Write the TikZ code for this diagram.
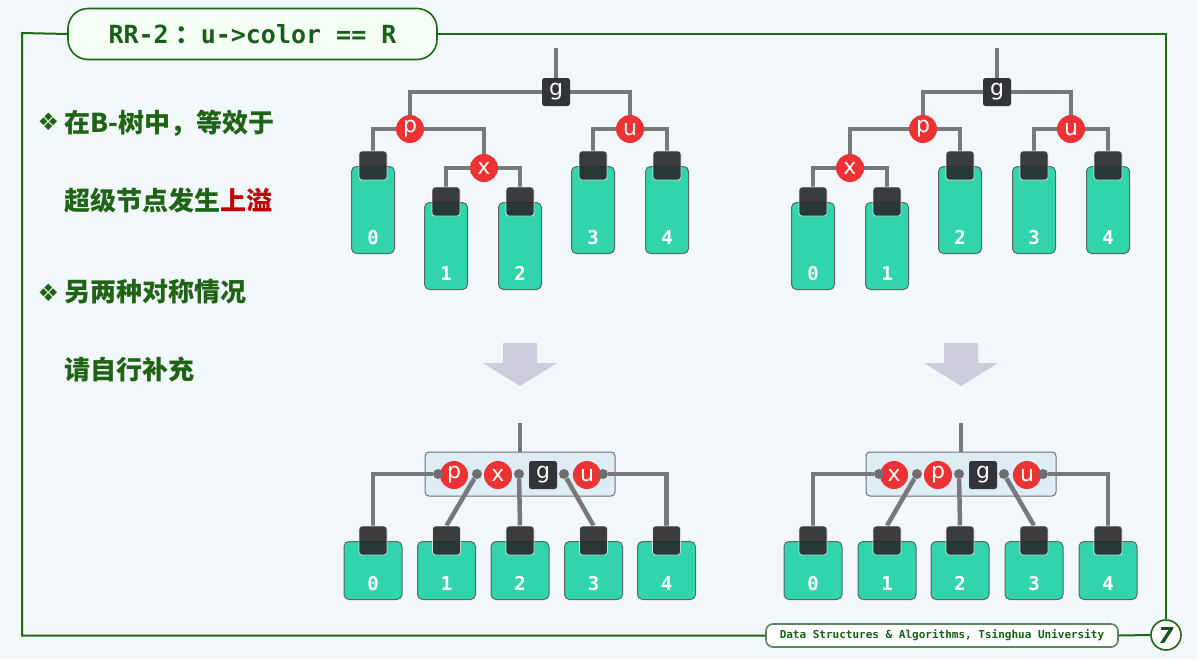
\documentclass[tikz,border=0pt]{standalone}
\usepackage{fontspec}
\newfontfamily\cjk{Noto Sans CJK SC}
\newfontfamily\mono{DejaVu Sans Mono}
\newfontfamily\djs{DejaVu Sans}
\pgfdeclarelayer{bgl}
\pgfdeclarelayer{lnl}
\pgfsetlayers{bgl,lnl,main}
\definecolor{bgc}{RGB}{242,247,251}
\definecolor{framec}{RGB}{30,105,20}
\definecolor{titlec}{RGB}{25,95,25}
\definecolor{txtc}{RGB}{30,100,20}
\definecolor{hotc}{RGB}{192,0,0}
\definecolor{redc}{RGB}{236,50,50}
\definecolor{gboxc}{RGB}{50,52,55}
\definecolor{linec}{RGB}{120,120,122}
\definecolor{blkc}{RGB}{50,212,172}
\definecolor{blkborder}{RGB}{85,105,100}
\definecolor{capc}{RGB}{40,40,42}
\definecolor{superc}{RGB}{222,236,244}
\definecolor{superb}{RGB}{110,112,115}
\definecolor{dotc}{RGB}{110,110,112}
\definecolor{arrc}{RGB}{205,205,220}
\definecolor{footb}{RGB}{95,130,95}
\tikzset{
  conn/.style={draw=linec, line width=4.5pt},
  framel/.style={draw=framec, line width=2pt},
  rnode/.style={circle, fill=redc, minimum size=28pt, inner sep=0pt, text=white, font=\djs\fontsize{22}{22}\selectfont},
  gnode/.style={rectangle, rounded corners=2.5pt, fill=gboxc, minimum size=28pt, inner sep=0pt, text=white, font=\djs\fontsize{22}{22}\selectfont},
  blockbox/.style={rectangle, rounded corners=5pt, fill=blkc, draw=blkborder, line width=1pt, inner sep=0pt},
  capbox/.style={rectangle, rounded corners=3pt, fill=capc, fill opacity=0.9, draw=white, draw opacity=0.75, line width=0.8pt, minimum width=28pt, minimum height=29pt, inner sep=0pt},
  blabel/.style={anchor=base, text=white, font=\mono\bfseries\fontsize{19}{19}\selectfont, inner sep=0pt},
  dotn/.style={circle, fill=dotc, minimum size=10pt, inner sep=0pt},
  superbox/.style={rectangle, rounded corners=4pt, fill=superc, draw=superb, line width=1pt, minimum width=190pt, minimum height=44pt, inner sep=0pt},
  cjktxt/.style={anchor=west, inner sep=0pt, text=txtc, font=\cjk\bfseries\fontsize{26}{26}\selectfont},
  bullet/.style={inner sep=0pt, text=txtc, font=\djs\fontsize{24}{24}\selectfont},
  bigarrow/.style={fill=arrc},
}
\newcommand\Blk[6]{%
  \node[blockbox, minimum width=#4pt, minimum height=#5pt, anchor=north] (#1) at (#2,#3) {};
  \node[capbox] (#1c) at (#2,#3-0.5) {};
  \node[blabel] (#1t) at (#2,#3+#5-8.5) {#6};
}
\begin{document}
\begin{tikzpicture}[x=1pt,y=-1pt]
\useasboundingbox (0,0) rectangle (1197,659);
\begin{pgfonlayer}{bgl}
\fill[bgc] (0,0) rectangle (1197,659);
\end{pgfonlayer}

% ---------- frame, title, footer ----------
\node[rectangle, rounded corners=20pt, fill=white!96!green, draw=framec, line width=1.6pt,
      minimum width=369pt, minimum height=51pt, inner sep=0pt, text=titlec,
      font=\mono\bfseries\fontsize{25}{25}\selectfont] (tt) at (252.5,34)
      {RR-2\hspace{7pt}{\cjk：}u->color == R};
\node[rectangle, rounded corners=7pt, fill=white, draw=footb, line width=1.6pt,
      minimum width=352pt, minimum height=23pt, inner sep=0pt, text=titlec,
      font=\mono\bfseries\fontsize{11}{11}\selectfont] (ft) at (942,635.5)
      {Data Structures \& Algorithms, Tsinghua University};
\node[circle, fill=white, draw=framec, line width=1.6pt, minimum size=30pt, inner sep=0pt,
      text={rgb,255:red,20;green,80;blue,40}, font=\djs\bfseries\itshape\fontsize{22}{22}\selectfont] (pg) at (1166,635) {7};
\coordinate (fc1) at (22,33);
\draw[framel] (tt.west) -- (fc1) |- (ft.west);
\draw[framel] (tt.east) -| (pg.north);
\draw[framel] (ft.east) -- (pg.west);

% ---------- left text ----------
\node[bullet] (bu1) at (48.5,122) {❖};
\node[cjktxt] (l1) at (64,123.5) {在B-树中，等效于};
\node[cjktxt] (l2) at (64,201) {超级节点发生{\color{hotc}上溢}};
\node[bullet] (bu2) at (48.5,292.5) {❖};
\node[cjktxt] (l3) at (64,292) {另两种对称情况};
\node[cjktxt] (l4) at (64,370) {请自行补充};

% ---------- arrows ----------
\fill[bigarrow] (503,343) -- (537,343) -- (537,363) -- (557,363) -- (520,386) -- (483,363) -- (503,363) -- cycle;
\fill[bigarrow] (944,343) -- (978,343) -- (978,363) -- (998,363) -- (961,386) -- (924,363) -- (944,363) -- cycle;

% ---------- tree 1 (top left) ----------
\coordinate (t1s) at (556,48);
\node[gnode] (t1g) at (556,92) {g};
\node[rnode] (t1p) at (410,129) {p};
\node[rnode] (t1u) at (630,129) {u};
\node[rnode] (t1x) at (484,168) {x};
\Blk{t1b0}{373}{166}{43}{87}{0}
\Blk{t1b1}{446}{202}{43}{87}{1}
\Blk{t1b2}{520}{202}{43}{87}{2}
\Blk{t1b3}{593}{166}{43}{87}{3}
\Blk{t1b4}{667}{166}{43}{87}{4}
\begin{pgfonlayer}{lnl}
\draw[conn] (t1s) -- (t1g);
\draw[conn] (t1g) -| (t1p);
\draw[conn] (t1g) -| (t1u);
\draw[conn] (t1p) -| (t1b0c.north);
\draw[conn] (t1p) -| (t1x);
\draw[conn] (t1x) -| (t1b1c.north);
\draw[conn] (t1x) -| (t1b2c.north);
\draw[conn] (t1u) -| (t1b3c.north);
\draw[conn] (t1u) -| (t1b4c.north);
\end{pgfonlayer}

% ---------- tree 2 (top right) ----------
\coordinate (t2s) at (997,48);
\node[gnode] (t2g) at (997,92) {g};
\node[rnode] (t2p) at (923,129) {p};
\node[rnode] (t2u) at (1071,129) {u};
\node[rnode] (t2x) at (850,168) {x};
\Blk{t2b0}{813}{202}{43}{87}{0}
\Blk{t2b1}{887}{202}{43}{87}{1}
\Blk{t2b2}{960}{166}{43}{87}{2}
\Blk{t2b3}{1034}{166}{43}{87}{3}
\Blk{t2b4}{1108}{166}{43}{87}{4}
\begin{pgfonlayer}{lnl}
\draw[conn] (t2s) -- (t2g);
\draw[conn] (t2g) -| (t2p);
\draw[conn] (t2g) -| (t2u);
\draw[conn] (t2p) -| (t2x);
\draw[conn] (t2p) -| (t2b2c.north);
\draw[conn] (t2x) -| (t2b0c.north);
\draw[conn] (t2x) -| (t2b1c.north);
\draw[conn] (t2u) -| (t2b3c.north);
\draw[conn] (t2u) -| (t2b4c.north);
\end{pgfonlayer}

% ---------- tree 3 (bottom left) ----------
\coordinate (b1s) at (520,423);
\begin{pgfonlayer}{bgl}
\node[superbox] (s1) at (520,474) {};
\end{pgfonlayer}
\node[rnode] (b1p) at (454,475) {p};
\node[rnode] (b1x) at (498,475) {x};
\node[gnode] (b1g) at (543,475) {g};
\node[rnode] (b1u) at (587,475) {u};
\node[dotn] (b1d0) at (438,474) {};
\node[dotn] (b1d1) at (477,474) {};
\node[dotn] (b1d2) at (519,474) {};
\node[dotn] (b1d3) at (564,474) {};
\node[dotn] (b1d4) at (603,474) {};
\Blk{b1b0}{373}{541}{58}{58}{0}
\Blk{b1b1}{446.5}{541}{58}{58}{1}
\Blk{b1b2}{520}{541}{58}{58}{2}
\Blk{b1b3}{593.5}{541}{58}{58}{3}
\Blk{b1b4}{666.5}{541}{58}{58}{4}
\begin{pgfonlayer}{lnl}
\draw[conn] (b1s) -- (s1.north);
\draw[conn] (b1d0) -| (b1b0c.north);
\draw[conn] (b1d1) -- (b1b1c.north);
\draw[conn] (b1d2) -- (b1b2c.north);
\draw[conn] (b1d3) -- (b1b3c.north);
\draw[conn] (b1d4) -| (b1b4c.north);
\end{pgfonlayer}

% ---------- tree 4 (bottom right) ----------
\coordinate (b2s) at (961,423);
\begin{pgfonlayer}{bgl}
\node[superbox] (s2) at (961,474) {};
\end{pgfonlayer}
\node[rnode] (b2x) at (894,475) {x};
\node[rnode] (b2p) at (938,475) {p};
\node[gnode] (b2g) at (983,475) {g};
\node[rnode] (b2u) at (1027,475) {u};
\node[dotn] (b2d0) at (879,474) {};
\node[dotn] (b2d1) at (917,474) {};
\node[dotn] (b2d2) at (959,474) {};
\node[dotn] (b2d3) at (1004,474) {};
\node[dotn] (b2d4) at (1043,474) {};
\Blk{b2b0}{813}{541}{58}{58}{0}
\Blk{b2b1}{887}{541}{58}{58}{1}
\Blk{b2b2}{960}{541}{58}{58}{2}
\Blk{b2b3}{1034}{541}{58}{58}{3}
\Blk{b2b4}{1108}{541}{58}{58}{4}
\begin{pgfonlayer}{lnl}
\draw[conn] (b2s) -- (s2.north);
\draw[conn] (b2d0) -| (b2b0c.north);
\draw[conn] (b2d1) -- (b2b1c.north);
\draw[conn] (b2d2) -- (b2b2c.north);
\draw[conn] (b2d3) -- (b2b3c.north);
\draw[conn] (b2d4) -| (b2b4c.north);
\end{pgfonlayer}
\end{tikzpicture}
\end{document}
